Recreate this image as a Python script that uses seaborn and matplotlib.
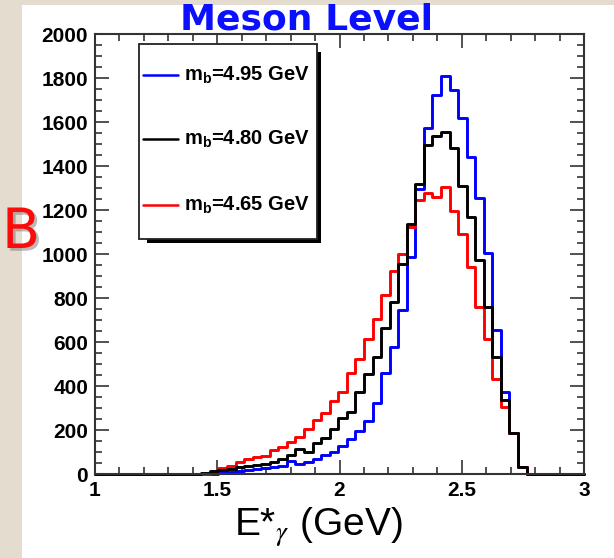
import numpy as np
import pandas as pd
import matplotlib
matplotlib.use("Agg")
import matplotlib.pyplot as plt
import matplotlib.patheffects as pe
from matplotlib.patches import Rectangle
from matplotlib.lines import Line2D
from matplotlib.ticker import MultipleLocator
import seaborn as sns

# Photon energy spectrum E*_gamma in 0.035 GeV bins; the first filled bin
# is [41*0.035, 42*0.035) GeV, everything outside the lists is empty.
bin_width = 0.035
first_bin = 41

mb_values = [4.95, 4.80, 4.65]
mb_colors = ["#0000ff", "#000000", "#ff0000"]

counts_mb495 = [0, 0, 3, 8, 12, 18, 22, 26, 30, 35, 60, 45, 55, 70, 86, 101,
                129, 159, 197, 242, 321, 458, 576, 745, 988, 1295, 1571, 1723,
                1810, 1745, 1617, 1442, 1253, 1006, 655, 374, 188, 33]
counts_mb480 = [3, 12, 18, 24, 30, 36, 41, 45, 56, 67, 86, 112, 101, 139, 162,
                203, 253, 283, 374, 455, 533, 662, 783, 955, 1136, 1318, 1495,
                1536, 1556, 1480, 1309, 1170, 973, 760, 530, 336, 188, 33]
counts_mb465 = [0, 8, 26, 36, 56, 67, 76, 82, 109, 124, 147, 167, 203, 245, 279,
                333, 374, 458, 523, 614, 703, 814, 924, 1000, 1124, 1245, 1276,
                1261, 1306, 1197, 1091, 940, 760, 612, 430, 306, 188, 33]

x_ticks = [1, 1.5, 2, 2.5, 3]
x_ticklabels = ["1", "1.5", "2", "2.5", "3"]
y_ticks = [0, 200, 400, 600, 800, 1000, 1200, 1400, 1600, 1800, 2000]
y_ticklabels = [str(v) for v in y_ticks]

# bin edges over the plotted range 1-3 GeV
edges = np.r_[1.0, np.arange(29, 86) * bin_width, 3.0]
centers = 0.5 * (edges[:-1] + edges[1:])


def full_counts(counts):
    out = np.zeros(len(centers))
    start = first_bin - 28
    out[start:start + len(counts)] = counts
    return out


frames = []
for mb, counts in zip(mb_values, [counts_mb495, counts_mb480, counts_mb465]):
    frames.append(pd.DataFrame({"E": centers, "n": full_counts(counts), "mb": mb}))
df = pd.concat(frames, ignore_index=True)

sns.set_theme(style="ticks")
plt.rcParams["font.family"] = ["Liberation Sans", "DejaVu Sans"]
plt.rcParams["mathtext.fontset"] = "custom"
plt.rcParams["mathtext.rm"] = "Liberation Sans"
plt.rcParams["mathtext.bf"] = "Liberation Sans:bold"
plt.rcParams["mathtext.it"] = "Liberation Sans:italic"

W, H = 614, 558
fig = plt.figure(figsize=(W / 100, H / 100), dpi=100, facecolor="#e4dccf")


def fx(px):
    return px / W


def fy(py):
    return 1 - py / H


# white slide panel behind the plot
fig.patches.append(Rectangle((fx(22), 0), 1 - fx(22), fy(5), transform=fig.transFigure,
                             facecolor="white", edgecolor="none", zorder=-1))

ax = fig.add_axes([fx(95), fy(474), fx(584) - fx(95), fy(34) - fy(474)])
ax.set_facecolor("white")

# draw order: blue, red, black on top
for mb in [4.95, 4.65, 4.80]:
    color = mb_colors[mb_values.index(mb)]
    sns.histplot(data=df[df["mb"] == mb], x="E", weights="n", bins=list(edges),
                 element="step", fill=False, color=color, linewidth=2.1, ax=ax)
for line in ax.lines:
    line.set_clip_on(False)

ax.set_xlim(1, 3)
ax.set_ylim(0, 2000)
ax.set_xticks(x_ticks)
ax.set_xticklabels(x_ticklabels)
ax.set_yticks(y_ticks)
ax.set_yticklabels(y_ticklabels)
ax.xaxis.set_minor_locator(MultipleLocator(0.1))
ax.yaxis.set_minor_locator(MultipleLocator(50))
ax.tick_params(which="both", direction="in", top=True, right=True,
               color="#333333", width=1.2)
ax.tick_params(which="major", length=10, labelsize=15, pad=5, labelcolor="black")
ax.tick_params(which="minor", length=5)
for lab in ax.get_xticklabels() + ax.get_yticklabels():
    lab.set_fontweight("bold")
for sp in ax.spines.values():
    sp.set_visible(True)
    sp.set_color("#333333")
    sp.set_linewidth(1.5)

ax.set_ylabel("")
ax.set_xlabel(r"E*$_{\gamma}$ (GeV)", fontsize=28, ha="left", va="baseline",
              color="black", math_fontfamily="stix")
ax.xaxis.set_label_coords((234 - 95) / 489, -(536 - 474) / 440)

# legend box with drop shadow
fig.patches.append(Rectangle((fx(147), fy(243)), fx(321) - fx(147), fy(52) - fy(243),
                             transform=fig.transFigure, facecolor="black",
                             edgecolor="none", zorder=5))
fig.patches.append(Rectangle((fx(139), fy(239)), fx(317) - fx(139), fy(44) - fy(239),
                             transform=fig.transFigure, facecolor="white",
                             edgecolor="#222222", linewidth=1.3, zorder=6))
for mb, color, yrow in zip(mb_values, mb_colors, [75, 139, 205]):
    fig.add_artist(Line2D([fx(143), fx(178)], [fy(yrow), fy(yrow)], color=color,
                          linewidth=1.8, transform=fig.transFigure, zorder=7))
    fig.text(fx(184), fy(yrow + 6), f"m$_{{\\mathbf{{b}}}}$={mb:.2f} GeV",
             fontsize=14.5, fontweight="bold", va="baseline", ha="left",
             color="black", zorder=7)

# slide decorations around the plot
fig.text(fx(306), fy(30), "Meson Level", ha="center", va="baseline", fontsize=26,
         fontweight="bold", color="#0a10ff", family=["DejaVu Sans"], zorder=8)
fig.text(fx(2), fy(248), "B", ha="left", va="baseline", fontsize=40,
         color="#ff0a0a", family=["DejaVu Sans"], zorder=8,
         path_effects=[pe.SimplePatchShadow(offset=(2, -2), shadow_rgbFace="#777777",
                                            alpha=0.5), pe.Normal()])

fig.savefig("out.png", dpi=100, facecolor=fig.get_facecolor())
